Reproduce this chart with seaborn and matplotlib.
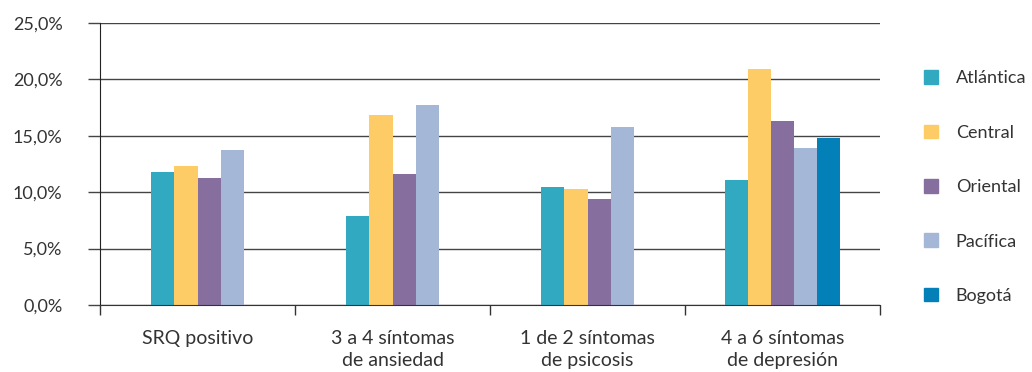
import pandas as pd
import matplotlib.pyplot as plt
import seaborn as sns
from matplotlib.patches import Patch
from matplotlib.ticker import FuncFormatter, FixedLocator

# Datos (porcentaje)
categorias = ["SRQ positivo", "3 a 4 síntomas\nde ansiedad",
              "1 de 2 síntomas\nde psicosis", "4 a 6 síntomas\nde depresión"]
regiones = ["Atlántica", "Central", "Oriental", "Pacífica", "Bogotá"]
atlantica = [11.8, 7.9, 10.5, 11.1]
central   = [12.3, 16.8, 10.3, 20.9]
oriental  = [11.3, 11.6, 9.4, 16.3]
pacifica  = [13.7, 17.7, 15.8, 13.9]
bogota    = [None, None, None, 14.8]
colores   = ["#30A9C1", "#FECC66", "#866F9E", "#A4B7D7", "#0380B7"]

series = dict(zip(regiones, [atlantica, central, oriental, pacifica, bogota]))
rows = [(c, r, v) for r, vals in series.items() for c, v in zip(categorias, vals)
        if v is not None]
df = pd.DataFrame(rows, columns=["categoria", "region", "valor"])
palette = dict(zip(regiones, colores))

sns.set_style("white")
plt.rcParams["font.family"] = ["Lato", "DejaVu Sans"]
txt = "#333333"

fig = plt.figure(figsize=(10.32, 3.72), dpi=100)
ax = fig.add_axes([100 / 1032, 1 - 305 / 372, 780 / 1032, 282 / 372])

# grupos de 4 barras (sin Bogotá) y grupo de 5 barras, cada uno centrado
df4 = df[df["categoria"] != categorias[3]]
df5 = df[df["categoria"] == categorias[3]]
sns.barplot(data=df4, x="categoria", y="valor", hue="region", order=categorias,
            hue_order=regiones[:4], palette=palette, width=0.472, saturation=1,
            errorbar=None, legend=False, linewidth=0, ax=ax)
sns.barplot(data=df5, x="categoria", y="valor", hue="region", order=categorias,
            hue_order=regiones, palette=palette, width=0.59, saturation=1,
            errorbar=None, legend=False, linewidth=0, ax=ax)

ax.set_xlim(-0.5, 3.5)
ax.set_ylim(0, 25)
ax.set_yticks([0, 5, 10, 15, 20, 25])
ax.yaxis.set_major_formatter(FuncFormatter(lambda v, p: f"{v:.1f}%".replace(".", ",")))
ax.yaxis.grid(True, color="#444444", lw=1)
ax.set_axisbelow(True)
ax.tick_params(axis="y", length=9, width=1, color="#444444", labelsize=13,
               labelcolor=txt, pad=18, left=True)

ax.xaxis.set_minor_locator(FixedLocator([-0.5, 0.5, 1.5, 2.5, 3.5]))
ax.tick_params(axis="x", which="major", length=0, labelsize=14, labelcolor=txt, pad=18)
ax.tick_params(axis="x", which="minor", length=7, width=1, color="#333333", bottom=True)
for lbl in ax.get_xticklabels():
    lbl.set_linespacing(1.35)
ax.set_xlabel("")
ax.set_ylabel("")

for s in ["top", "right"]:
    ax.spines[s].set_visible(False)
ax.spines["left"].set_color("#222222")
ax.spines["bottom"].set_color("#333333")

handles = [Patch(color=palette[r], label=r) for r in regiones]
fig.legend(handles=handles, loc="center left", bbox_to_anchor=(0.880, 0.497),
           frameon=False, fontsize=13, labelspacing=2.12, handlelength=0.78,
           handleheight=0.78, handletextpad=0.95, labelcolor=txt)

fig.savefig("out.png", dpi=100)
